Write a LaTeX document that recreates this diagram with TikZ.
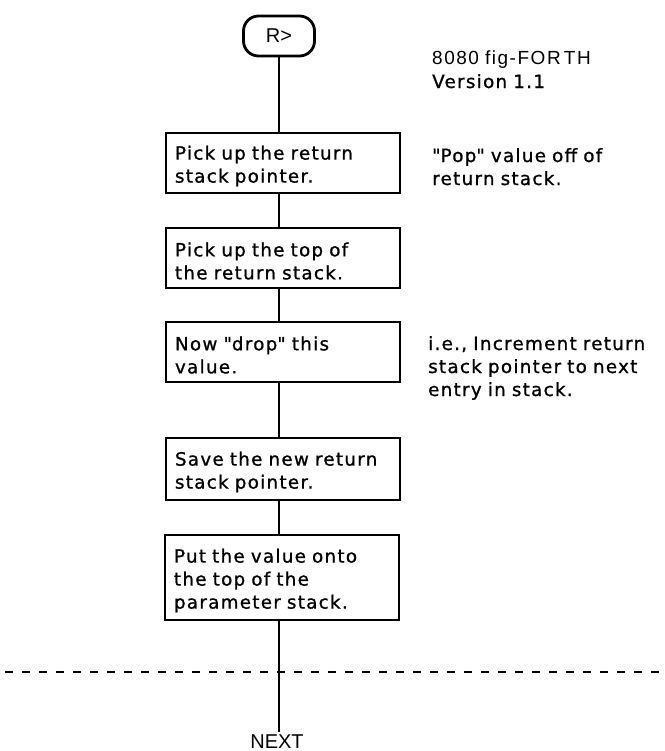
\documentclass[tikz,border=0pt]{standalone}
\usepackage{fontspec}
\setmainfont{DejaVu Sans}[LetterSpace=7, FakeBold=1]
\newfontfamily\thinfont{Liberation Sans}
\newfontfamily\thinwide{Liberation Sans}[LetterSpace=8]
\begin{document}
\begin{tikzpicture}[x=1bp,y=-1bp,
  proc/.style={draw, line width=2.8bp, minimum width=234bp, text width=216bp,
    align=left, inner xsep=9bp, inner ysep=0pt, text height=20bp,
    font=\fontsize{18.3bp}{23bp}\selectfont},
  term/.style={draw, line width=2.8bp, rounded corners=15bp, minimum width=71bp,
    minimum height=40bp, font=\thinfont\fontsize{20bp}{22bp}\selectfont},
  note/.style={anchor=base west, align=left, text width=240bp, inner sep=0pt,
    font=\fontsize{18.3bp}{23bp}\selectfont},
  conn/.style={line width=2.6bp},
  sep/.style={line width=2.4bp, dash pattern=on 8bp off 9bp}]
\useasboundingbox (0,0) rectangle (665,751);

\node[term] (t) at (279,36) {R>};
\node[proc, minimum height=60bp] (b1) at (283,163) {Pick up the return\\stack pointer.};
\node[proc, minimum height=60bp] (b2) at (283,258) {Pick up the top of\\the return stack.};
\node[proc, minimum height=60bp] (b3) at (283,352) {Now \textquotedbl drop\textquotedbl\ this\\value.};
\node[proc, minimum height=62bp] (b4) at (283,469) {Save the new return\\stack pointer.};
\node[proc, minimum height=85bp] (b5) at (282,577.5) {Put the value onto\\the top of the\\parameter stack.};
\node[anchor=base, inner sep=2bp, font=\thinfont\fontsize{20bp}{22bp}\selectfont] (next) at (277,748) {NEXT};

\node[note] (ver) at (432,65) {{\thinwide\fontsize{19bp}{23bp}\selectfont 8080 fig-FOR\,TH}\\Version 1.1};
\node[note] (pop) at (432,162) {\textquotedbl Pop\textquotedbl\ value off of\\return stack.};
\node[note] (ie) at (428,350) {i.e., Increment return\\stack pointer to next\\entry in stack.};

\draw[conn] (t.south) -- (t.south |- b1.north);
\draw[conn] (t.south |- b1.south) -- (t.south |- b2.north);
\draw[conn] (t.south |- b2.south) -- (t.south |- b3.north);
\draw[conn] (t.south |- b3.south) -- (t.south |- b4.north);
\draw[conn] (t.south |- b4.south) -- (t.south |- b5.north);
\draw[conn] (t.south |- b5.south) -- (t.south |- next.north);

\coordinate (dl) at (5,672);
\coordinate (dr) at (665,672);
\draw[sep] (dl) -- (dr);
\end{tikzpicture}
\end{document}
